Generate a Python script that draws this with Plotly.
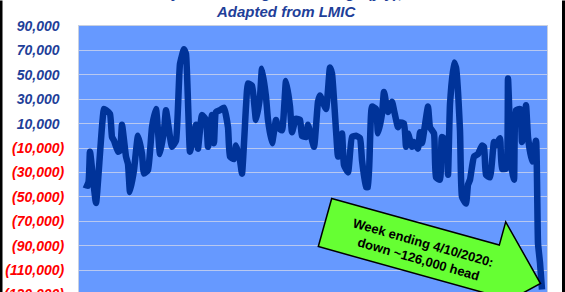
import plotly.graph_objects as go

# Week index (from start of series) and year-over-year change in weekly cattle slaughter (head)
weeks = [0, 2, 3, 6, 10, 11, 13, 14, 15, 17, 18, 19, 21, 22, 23, 25, 27, 29, 30, 32,
         34, 36, 38, 40, 41, 43, 44, 46, 48, 50, 51, 53, 54, 56, 57, 59, 61, 62, 64, 65,
         66, 68, 70, 72, 73, 75, 76, 78, 79, 81, 82, 84, 86, 88, 89, 91, 92, 94, 96, 97,
         99, 101, 103, 104, 106, 108, 109, 111, 112, 115, 117, 118, 121, 123, 124, 126, 127, 129, 130, 132,
         134, 136, 138, 139, 141, 142, 144, 146, 147, 149, 150, 152, 154, 155, 157, 158, 160, 161, 162, 164,
         165, 167, 168, 169, 172, 173, 175, 176, 178, 179, 181, 182, 183, 185, 186, 188, 189, 191, 192, 193,
         195, 197, 199, 200, 201, 203, 205, 206, 208, 209, 211, 212, 213, 214, 215, 216, 218, 219, 221, 222,
         224, 226, 227, 228, 229]
change = [-40000, -41000, -13000, -55000, 22000, 21000, 18000, -1000, -4000, -13000, -12000, 9000, -17000, -23000, -46000, -28000, 0, -15000, -31000, -28000,
          7000, 22000, -15000, 4500, 21000, -1000, -9000, -4000, 59000, 71000, 67000, -13000, -6000, 9000, -10500, 17000, 13000, -9000, 17000, -6000,
          19500, 21000, 23000, 7000, -17000, -19000, -8000, -20000, -31000, 24000, 43000, 41000, 13000, 32000, 55000, 32000, 13000, -6000, 13000, 7000,
          4500, 45000, 24000, 3000, 14000, 13000, 0, -1000, 9000, -9000, 28000, 33000, 22000, 56000, 51000, 4500, -17000, 2000, -24000, -30000,
          -1000, 0, -2000, -20000, -42000, -42000, 24000, 22000, 2000, 18000, 36000, 19500, 28000, 21000, 7000, 11000, 10000, -9000, 2000, -9000,
          -5000, -10500, 3000, -6000, 24000, 7000, 2000, -34000, -36000, -1000, -4000, -32000, 26000, 60000, 56000, 4500, -50000, -55500, -40000, -36000,
          -17000, -15000, -8000, -9000, -32000, -34000, -5000, -8000, -2000, -27000, -27000, 47000, 4500, -28000, -36000, 21000, 22000, -5000, 25000, -1000,
          -21000, -4000, -88000, -104000, -126000]

tick_vals = [90000, 70000, 50000, 30000, 10000, -10000, -30000, -50000, -70000, -90000, -110000]


def tick_label(v):
    if v < 0:
        return "<span style='color:#FF0000'>(" + f"{-v:,}" + ")</span>"
    return f"{v:,}" + "<span style='color:#FFFFFF'>)</span>"


tick_text = [tick_label(v) for v in tick_vals]

W, H = 565, 292
L, R, T, B = 79, 18, 25.5, 0
pw, ph = W - L - R, H - T - B


def px(x, y):
    return (x - L) / pw, (H - y) / ph


fig = go.Figure()
fig.add_trace(go.Scatter(x=weeks, y=change, mode="lines",
                         line=dict(color="#003399", width=6.5, shape="spline", smoothing=0.4),
                         showlegend=False, hoverinfo="skip"))

fig.update_layout(
    width=W, height=H,
    margin=dict(l=L, r=R, t=T, b=B, pad=0),
    paper_bgcolor="white", plot_bgcolor="#6699FF",
    showlegend=False,
    font=dict(family="Liberation Sans, Arial, sans-serif"),
)
fig.update_xaxes(range=[-2.5, 231.5], showgrid=False, zeroline=False, showticklabels=False,
                 showline=True, linecolor="#C8D0E0", linewidth=1, mirror=True, ticks="")
fig.update_yaxes(range=[-128000, 90000], tickvals=tick_vals, ticktext=tick_text,
                 showgrid=True, gridcolor="#B8C8F0", gridwidth=1, zeroline=False,
                 showline=True, linecolor="#C8D0E0", linewidth=1, mirror=True,
                 ticks="", ticklabelstandoff=11,
                 tickfont=dict(size=14, color="#1F3F99", weight="bold", style="italic",
                               family="Liberation Sans, Arial, sans-serif"))

# cut-off bottom tick label
bx, by = px(66, 294)
fig.add_annotation(xref="paper", yref="paper", x=bx, y=by, xanchor="right", yanchor="middle",
                   text="(130,000)", showarrow=False,
                   font=dict(size=14, color="#FF0000", weight="bold", style="italic"))

# titles (top one cut off)
tx, ty = px(286, -8.3)
fig.add_annotation(xref="paper", yref="paper", x=tx, y=ty, xanchor="center", yanchor="middle",
                   text="Weekly Cattle Slaughter: Change (y/y), head", showarrow=False,
                   font=dict(size=15, color="#1F3F99", weight="bold", style="italic"))
tx, ty = px(286, 11)
fig.add_annotation(xref="paper", yref="paper", x=tx, y=ty, xanchor="center", yanchor="middle",
                   text="Adapted from LMIC", showarrow=False,
                   font=dict(size=15, color="#1F3F99", weight="bold", style="italic"))

# green callout arrow
pts = [(331.7, 198.3), (499.3, 245.0), (505.7, 221.7), (540.5, 283.5),
       (479.4, 316.5), (485.9, 293.2), (318.3, 246.5)]
path = "M " + " L ".join(f"{px(x, y)[0]:.5f},{px(x, y)[1]:.5f}" for x, y in pts) + " Z"
fig.add_shape(type="path", xref="paper", yref="paper", path=path,
              fillcolor="#66FF33", line=dict(color="black", width=1.5), layer="above")
cx, cy = px(421, 251)
fig.add_annotation(xref="paper", yref="paper", x=cx, y=cy, xanchor="center", yanchor="middle",
                   text="Week ending 4/10/2020:<br>down ~126,000 head", showarrow=False,
                   textangle=16, font=dict(size=13, color="black", weight="bold"))

# black frame edges
for x0, x1 in [(0, 2.5), (562, 565)]:
    a0, _ = px(x0, 0)
    a1, _ = px(x1, 0)
    fig.add_shape(type="rect", xref="paper", yref="paper", x0=a0, x1=a1,
                  y0=px(0, H)[1], y1=px(0, 0)[1], fillcolor="black", line=dict(width=0))

fig.write_html("out.html")
